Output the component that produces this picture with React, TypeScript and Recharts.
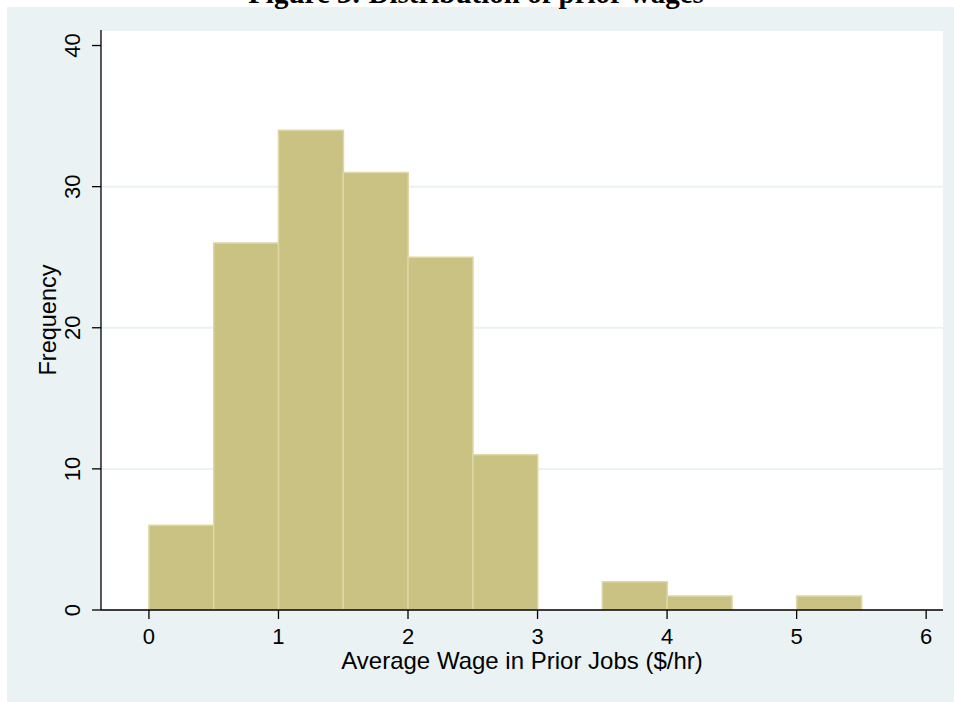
import React from 'react';
import { BarChart, Bar, XAxis, YAxis, CartesianGrid, Label } from 'recharts';

const binStarts = [0, 0.5, 1, 1.5, 2, 2.5, 3, 3.5, 4, 4.5, 5, 5.5];
const binWidth = 0.5;
const frequencies = [6, 26, 34, 31, 25, 11, 0, 2, 1, 0, 1, 0];
const xTicks = [0, 1, 2, 3, 4, 5, 6];
const yTicks = [0, 10, 20, 30, 40];
const gridValues = [10, 20, 30];
const xDomain: [number, number] = [-0.37, 6.13];
const yDomain: [number, number] = [0, 41.1];
const titleText = 'Figure 3: Distribution of prior wages';
const xLabel = 'Average Wage in Prior Jobs ($/hr)';
const yLabel = 'Frequency';

const data = binStarts.map((s, i) => ({
  bin: String(s),
  mid: s + binWidth / 2,
  freq: frequencies[i],
}));

const W = 954;
const H = 702;
const margin = { top: 30, right: 11, bottom: 32, left: 0 };
const yAxisWidth = 101;
const xAxisHeight = 60;
const plotW = W - margin.left - margin.right - yAxisWidth;
const span = xDomain[1] - xDomain[0];
const padLeft = (plotW * (binStarts[0] - xDomain[0])) / span;
const padRight = (plotW * (xDomain[1] - (binStarts[binStarts.length - 1] + binWidth))) / span;

const SANS = '"Liberation Sans", Arial, Helvetica, sans-serif';
const BG = '#EAF2F3';

const YTick = (props: any) => {
  const { x, y, payload } = props;
  return (
    <text
      x={x}
      y={y}
      transform={`rotate(-90, ${x}, ${y})`}
      textAnchor="middle"
      fontSize={22}
      fontFamily={SANS}
      fill="#000"
    >
      {payload.value}
    </text>
  );
};

export default function App() {
  return (
    <div style={{ position: 'absolute', left: 0, top: 0, width: W, height: H, background: '#fff', overflow: 'hidden' }}>
      <div style={{ position: 'absolute', left: 7, top: 7, width: W - 7, height: H - 7, background: BG }} />
      <div style={{ position: 'absolute', left: 0, top: 0 }}>
        <BarChart width={W} height={H} data={data} margin={margin} barCategoryGap={0} barGap={0}>
          <CartesianGrid
            yAxisId="grid"
            fill="#ffffff"
            vertical={false}
            stroke={BG}
            strokeWidth={2}
          />
          <XAxis
            xAxisId="bins"
            dataKey="bin"
            type="category"
            hide
            padding={{ left: padLeft, right: padRight }}
          />
          <XAxis
            xAxisId={0}
            dataKey="mid"
            type="number"
            domain={xDomain}
            allowDataOverflow
            ticks={xTicks}
            interval={0}
            height={xAxisHeight}
            tickSize={9}
            tickMargin={9}
            axisLine={{ stroke: '#000', strokeWidth: 1.3 }}
            tickLine={{ stroke: '#000', strokeWidth: 1.3 }}
            tick={{ fontSize: 22, fontFamily: SANS, fill: '#000' }}
          >
            <Label
              content={({ viewBox }: any) => (
                <text
                  x={viewBox.x + viewBox.width / 2}
                  y={viewBox.y + 59}
                  textAnchor="middle"
                  fontSize={24}
                  fontFamily={SANS}
                  fill="#000"
                >
                  {xLabel}
                </text>
              )}
            />
          </XAxis>
          <YAxis
            yAxisId="grid"
            type="number"
            domain={yDomain}
            allowDataOverflow
            ticks={gridValues}
            hide
          />
          <YAxis
            yAxisId={0}
            type="number"
            domain={yDomain}
            allowDataOverflow
            ticks={yTicks}
            interval={0}
            width={yAxisWidth}
            tickSize={9}
            tickMargin={12}
            axisLine={{ stroke: '#000', strokeWidth: 1.3 }}
            tickLine={{ stroke: '#000', strokeWidth: 1.3 }}
            tick={<YTick />}
          >
            <Label
              content={({ viewBox }: any) => {
                const cx = 56;
                const cy = viewBox.y + viewBox.height / 2;
                return (
                  <text
                    x={cx}
                    y={cy}
                    transform={`rotate(-90, ${cx}, ${cy})`}
                    textAnchor="middle"
                    fontSize={23.5}
                    fontFamily={SANS}
                    fill="#000"
                  >
                    {yLabel}
                  </text>
                );
              }}
            />
          </YAxis>
          <Bar
            xAxisId="bins"
            yAxisId={0}
            dataKey="freq"
            fill="#C9C283"
            stroke="#DDD8A6"
            strokeWidth={1.5}
            isAnimationActive={false}
          />
        </BarChart>
      </div>
      <svg style={{ position: 'absolute', left: 0, top: 0 }} width={W} height={20}>
        <text
          x={476}
          y={3}
          textAnchor="middle"
          fontSize={29}
          fontWeight="bold"
          fontFamily='"Liberation Serif", "Times New Roman", serif'
          fill="#000"
        >
          {titleText}
        </text>
      </svg>
    </div>
  );
}
